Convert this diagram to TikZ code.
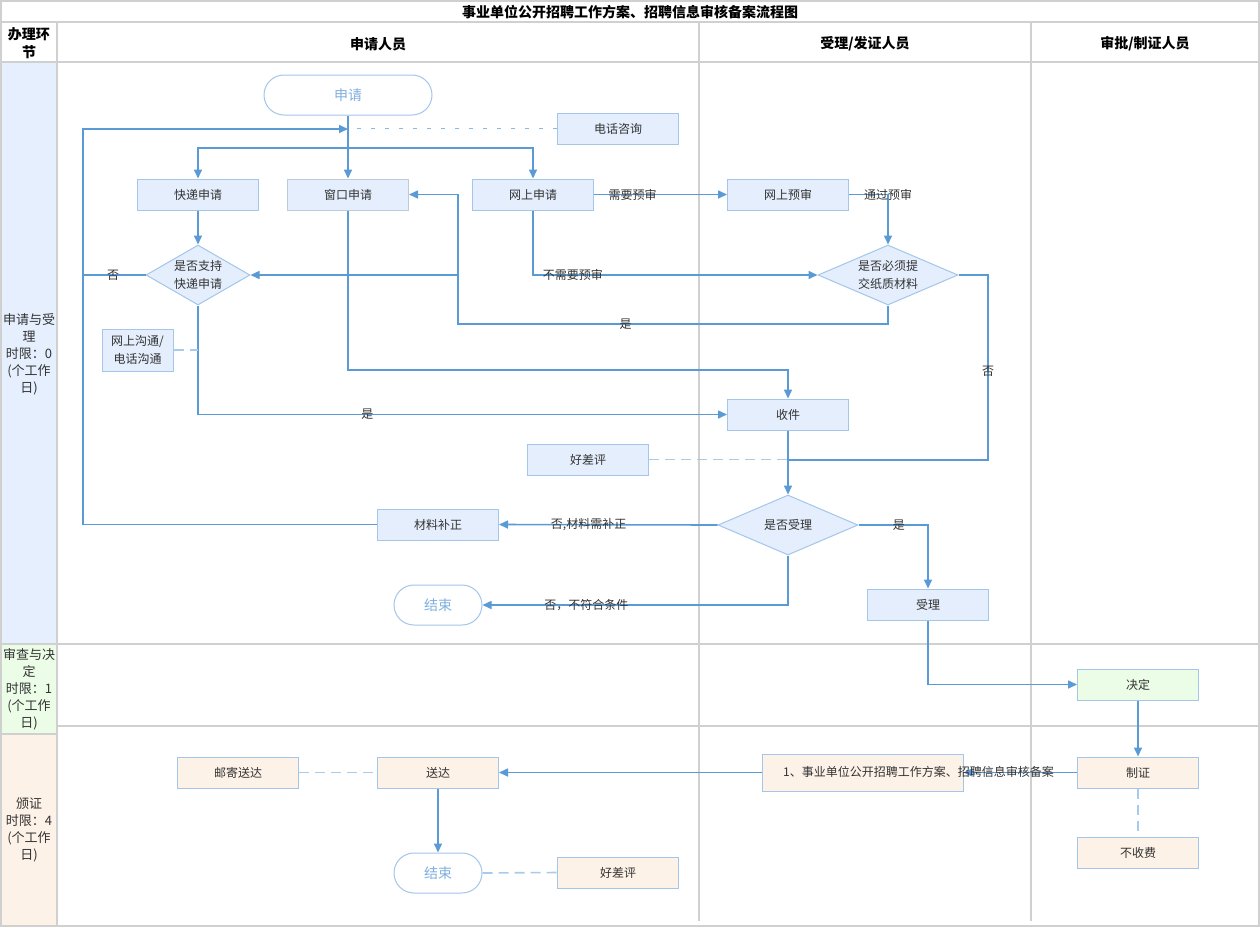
\documentclass[tikz,border=0pt]{standalone}
\usepackage{fontspec}
\setmainfont{Noto Sans CJK SC}
\usetikzlibrary{shapes.geometric,arrows.meta}
\definecolor{linec}{HTML}{5B9BD5}
\definecolor{bbord}{HTML}{A4C6EA}
\definecolor{bfill}{HTML}{E4EEFC}
\definecolor{gfill}{HTML}{EBFDE6}
\definecolor{ofill}{HTML}{FDF2E7}
\definecolor{dashc}{HTML}{A9CBEB}
\definecolor{gridc}{HTML}{D0D0D0}
\definecolor{cellb}{HTML}{E5EFFD}
\definecolor{pillt}{HTML}{7FAFE0}
\definecolor{txt}{HTML}{333333}
\begin{document}
\begin{tikzpicture}[x=1pt,y=-1pt,
  box/.style={rectangle,draw=bbord,fill=bfill,line width=1pt,minimum width=121,minimum height=31,inner sep=0pt,font=\fontsize{12}{16}\selectfont,text=txt},
  gbox/.style={box,fill=gfill},
  obox/.style={box,fill=ofill},
  pill/.style={rectangle,rounded corners=20pt,draw=bbord,fill=white,line width=1pt,minimum width=88,minimum height=40,inner sep=0pt,font=\fontsize{14}{16}\selectfont,text=pillt},
  dia/.style={diamond,draw=bbord,fill=bfill,line width=1pt,inner sep=0pt,align=center,font=\fontsize{12}{18}\selectfont,text=txt},
  arr/.style={draw=linec,line width=1.6pt,-{Triangle[length=9pt,width=8pt]}},
  ln/.style={draw=linec,line width=1.6pt},
  dsh/.style={draw=dashc,line width=1.6pt,dash pattern=on 10pt off 6pt},
  dot/.style={draw=linec!70,line width=1.6pt,dash pattern=on 4pt off 10pt},
  lab/.style={font=\fontsize{12}{14}\selectfont,text=txt,inner sep=0pt},
  grid/.style={draw=gridc,line width=2pt},
  hdr/.style={font=\bfseries\fontsize{14}{18}\selectfont,text=black,align=center},
  lcol/.style={font=\fontsize{13}{17}\selectfont,text=txt,align=center}
]
\useasboundingbox (0,0) rectangle (1260,927);
\fill[white] (0,0) rectangle (1260,927);
% left column fills
\fill[cellb] (1,62) rectangle (57,644);
\fill[gfill] (1,644) rectangle (57,734);
\fill[ofill] (1,734) rectangle (57,925);
% grid
\draw[grid] (1,1) rectangle (1259,926);
\draw[grid] (1,22) -- (1259,22);
\draw[grid] (1,62) -- (1259,62);
\draw[grid] (1,644) -- (1259,644);
\draw[grid] (57,726) -- (1259,726);
\draw[grid] (1,734) -- (57,734);
\draw[grid] (57,22) -- (57,926);
\draw[grid] (699,22) -- (699,921);
\draw[grid] (1031,22) -- (1031,921);
% headers
\node[hdr] (title) at (630,12) {事业单位公开招聘工作方案、招聘信息审核备案流程图};
\node[hdr] (h0) at (29,43) {办理环\\节};
\node[hdr] (h1) at (378,44) {申请人员};
\node[hdr] (h2) at (865,44) {受理/发证人员};
\node[hdr] (h3) at (1145,44) {审批/制证人员};
\node[lcol] (r1) at (29,354) {申请与受\\理\\时限：0\\(个工作\\日)};
\node[lcol] (r2) at (29,689) {审查与决\\定\\时限：1\\(个工作\\日)};
\node[lcol] (r3) at (29,830) {颁证\\时限：4\\(个工作\\日)};
% nodes
\node[pill,minimum width=168] (sq) at (348,95) {申请};
\node[box] (dh) at (618,128.5) {电话咨询};
\node[box] (kd) at (198,194.5) {快递申请};
\node[box,draw=gridc!60!bbord] (ck) at (348,194.5) {窗口申请};
\node[box] (ws) at (533,194.5) {网上申请};
\node[box] (wy) at (788,194.5) {网上预审};
\node[dia,minimum width=104,minimum height=60,aspect=1.73] (zc1) at (198,275) {是否支持\\快递申请};
\node[dia,minimum width=140,minimum height=60,aspect=2.33] (zc2) at (888,275) {是否必须提\\交纸质材料};
\node[box,minimum width=71,minimum height=42,align=center,font=\fontsize{12}{18}\selectfont] (gt) at (137.5,350) {网上沟通/\\电话沟通};
\node[box] (sj) at (788,414.5) {收件};
\node[box] (hp) at (588,459.5) {好差评};
\node[dia,minimum width=140,minimum height=60,aspect=2.33] (zc3) at (788,525) {是否受理};
\node[box] (bz) at (438,524.5) {材料补正};
\node[pill] (js1) at (438,605) {结束};
\node[box] (sl) at (928,604.5) {受理};
\node[gbox] (jd) at (1138,684.5) {决定};
\node[obox] (zz) at (1138,772.5) {制证};
\node[obox] (bsf) at (1138,852.5) {不收费};
\node[obox,minimum width=201,minimum height=37] (b1) at (862.5,772.5) {};
\node[obox] (sd) at (438,772.5) {送达};
\node[obox] (yj) at (238,772.5) {邮寄送达};
\node[pill] (js2) at (438,873) {结束};
\node[obox] (hp2) at (618,872.5) {好差评};
% connectors
\draw[arr] (sq.south) -- (ck.north);
\draw[ln] (198,148) -- (533,148);
\draw[arr] (348,148) -| (kd.north);
\draw[arr] (348,148) -| (ws.north);
\draw[dot] (dh.west) -- (350,128.5);
\draw[arr] (bz.west) -- (83,524.5) -- (83,129) -- (348,129);
\draw[ln] (zc1.west) -- node[lab,pos=0.52]{否} (83,275);
\draw[arr] (kd.south) -- (zc1.north);
\draw[arr] (ws.east) -- node[lab,pos=0.29]{需要预审} (wy.west);
\draw[arr] (wy.east) -| node[lab,pos=0.5]{通过预审} (zc2.north);
\draw[arr] (ws.south) |- node[lab,pos=0.57]{不需要预审} (zc2.west);
\draw[arr] (zc2.south) -- (888,324) -- node[lab,pos=0.61]{是} (458,324) -- (458,194.5) -- (ck.east);
\draw[arr] (458,275) -- (zc1.east);
\draw[arr] (ck.south) -- (348,370) -| (sj.north);
\draw[arr] (zc1.south) |- node[lab,pos=0.66]{是} (sj.west);
\draw[dsh] (gt.east) -- (198,350);
\draw[ln] (zc2.east) -| node[lab,pos=0.76]{否} (988,460) -- (788,460);
\draw[dsh] (hp.east) -- (787,459.5);
\draw[arr] (sj.south) -- (zc3.north);
\draw[arr] (zc3.west) -- node[lab,pos=0.59]{否,材料需补正} (bz.east);
\draw[arr] (zc3.south) |- node[lab,pos=0.83]{否，不符合条件} (js1.east);
\draw[arr] (zc3.east) -| node[lab,pos=0.29]{是} (sl.north);
\draw[arr] (sl.south) |- (jd.west);
\draw[arr] (jd.south) -- (zz.north);
\draw[dsh] (zz.south) -- (1138,834);
\draw[arr] (zz.west) -- (b1.east);
\draw[arr] (b1.west) -- (sd.east);
\node[lab,anchor=west] (b1t) at (783,771.5) {1、事业单位公开招聘工作方案、招聘信息审核备案};
\draw[dsh] (yj.east) -- (sd.west);
\draw[arr] (sd.south) -- (js2.north);
\draw[dsh] (js2.east) -- (hp2.west);
\end{tikzpicture}
\end{document}
